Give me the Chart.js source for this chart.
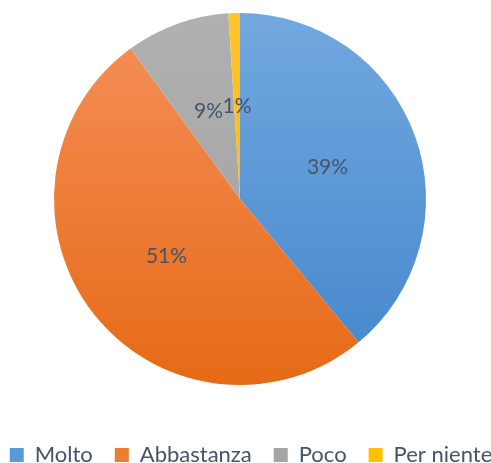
<!DOCTYPE html>
<html>
<head>
<meta charset="utf-8">
<script src="https://cdn.jsdelivr.net/npm/chart.js@4"></script>
<style>
  html, body { margin: 0; padding: 0; background: #fff; overflow: hidden; }
  #wrap { position: relative; width: 491px; height: 463px; overflow: hidden; }
  #pie { position: absolute; left: -40px; top: -24px; }
</style>
</head>
<body>
<div id="wrap"><canvas id="pie" width="560" height="500"></canvas></div>
<script>
// chart data
const labels = ["Molto", "Abbastanza", "Poco", "Per niente"];
const values = [39, 51, 9, 1];
const percentLabels = ["39%", "51%", "9%", "1%"];

// excel-ish gradient stops (top, bottom) and flat legend colour
const topColors = ["#72a8df", "#f5905a", "#b0b0b0", "#ffc42f"];
const bottomColors = ["#4386cc", "#e66a16", "#a0a0a0", "#f2b400"];
const legendColors = ["#5b9bd5", "#ed7d31", "#a5a5a5", "#ffc000"];

const textColor = "#44546a";
const fontFamily = "Lato, 'Open Sans', sans-serif";

function sliceFill(ctx) {
  const chart = ctx.chart;
  const area = chart.chartArea;
  if (!area) return legendColors[ctx.dataIndex];
  const meta = chart.getDatasetMeta(0);
  const arc = meta.data[ctx.dataIndex];
  const cy = arc && arc.y ? arc.y : (area.top + area.bottom) / 2;
  const r = arc && arc.outerRadius ? arc.outerRadius : 186;
  const g = chart.ctx.createLinearGradient(0, cy - r, 0, cy + r);
  g.addColorStop(0, topColors[ctx.dataIndex]);
  g.addColorStop(1, bottomColors[ctx.dataIndex]);
  return g;
}

// percent labels in the middle of each slice
const sliceLabels = {
  id: "sliceLabels",
  afterDatasetsDraw(chart) {
    const ctx = chart.ctx;
    const meta = chart.getDatasetMeta(0);
    ctx.save();
    ctx.fillStyle = textColor;
    ctx.font = "21px " + fontFamily;
    ctx.textAlign = "center";
    ctx.textBaseline = "middle";
    meta.data.forEach((arc, i) => {
      const p = arc.getProps(["x", "y", "startAngle", "endAngle", "outerRadius"], true);
      const mid = (p.startAngle + p.endAngle) / 2;
      const d = p.outerRadius * 0.5;
      ctx.fillText(percentLabels[i], p.x + Math.cos(mid) * d, p.y + Math.sin(mid) * d);
    });
    ctx.restore();
  }
};

// nudge the legend a bit to the right, like the original
const legendShift = {
  id: "legendShift",
  afterLayout(chart) {
    chart.legend.left += 11;
    chart.legend.right += 11;
  }
};

new Chart(document.getElementById("pie"), {
  type: "pie",
  data: {
    labels: labels,
    datasets: [{
      data: values,
      backgroundColor: sliceFill,
      borderWidth: 0
    }]
  },
  options: {
    responsive: false,
    animation: false,
    radius: 186,
    plugins: {
      tooltip: { enabled: false },
      legend: {
        position: "bottom",
        labels: {
          boxWidth: 14,
          boxHeight: 14,
          padding: 22,
          color: textColor,
          font: { size: 22, family: fontFamily },
          generateLabels(chart) {
            return labels.map((l, i) => ({
              text: l,
              fillStyle: legendColors[i],
              strokeStyle: legendColors[i],
              lineWidth: 0,
              fontColor: textColor,
              index: i
            }));
          }
        }
      }
    }
  },
  plugins: [sliceLabels, legendShift]
});
</script>
</body>
</html>
